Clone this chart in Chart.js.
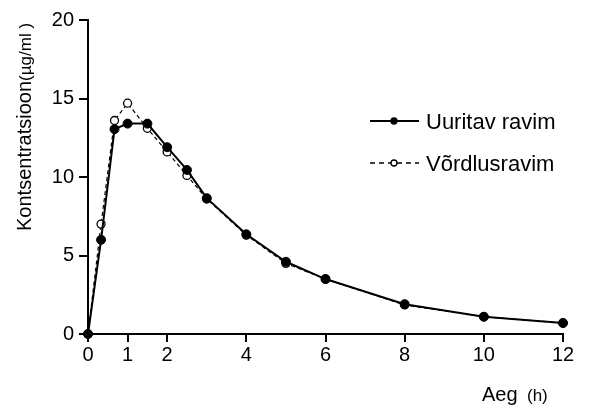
<!DOCTYPE html>
<html>
<head>
<meta charset="utf-8">
<script src="https://cdn.jsdelivr.net/npm/chart.js@4"></script>
<style>
  html, body { margin: 0; padding: 0; background: #fff; }
  #wrap { width: 597px; height: 405px; }
</style>
</head>
<body>
<div id="wrap"><canvas id="pk"></canvas></div>
<script>
// aeg (h) ja kontsentratsioon (µg/ml)
const aeg = [0, 0.33, 0.67, 1, 1.5, 2, 2.5, 3, 4, 5, 6, 8, 10, 12];
const uuritav = [0, 6.0, 13.05, 13.4, 13.4, 11.9, 10.45, 8.65, 6.35, 4.6, 3.5, 1.9, 1.1, 0.7];
const vordlus = [0, 7.0, 13.6, 14.7, 13.1, 11.6, 10.1, 8.6, 6.3, 4.5, 3.5, 1.85, 1.1, 0.7];
const xTicks = [0, 1, 2, 4, 6, 8, 10, 12];
const yTicks = [0, 5, 10, 15, 20];

const FONT = "'Liberation Sans', Arial, sans-serif";

const toPoints = (vals) => vals.map((v, i) => ({ x: aeg[i], y: v }));

// teljepealkirjad ja legend (kahe suurusega tekst)
const extras = {
    id: 'extras',
    afterDraw(chart) {
        const c = chart.ctx;
        c.save();
        c.fillStyle = '#000';
        c.textBaseline = 'alphabetic';

        // x telje pealkiri
        c.font = '20px ' + FONT;
        c.fillText('Aeg', 482, 401);
        c.font = '17px ' + FONT;
        c.fillText('(h)', 527, 401);

        // y telje pealkiri
        c.save();
        c.translate(31, 231);
        c.rotate(-Math.PI / 2);
        c.font = '20px ' + FONT;
        c.fillText('Kontsentratsioon', 0, 0);
        const w2 = c.measureText('Kontsentratsioon').width;
        c.font = '17px ' + FONT;
        c.fillText('(µg/ml )', w2, 0);
        c.restore();

        // legend
        const rows = [121, 163];
        chart.data.datasets.forEach((ds, i) => {
            const y = rows[i];
            c.strokeStyle = '#000';
            c.lineWidth = i === 0 ? 1.8 : 1.3;
            c.setLineDash(i === 0 ? [] : [5, 4]);
            c.beginPath();
            c.moveTo(370, y);
            c.lineTo(419, y);
            c.stroke();
            c.setLineDash([]);
            c.beginPath();
            c.arc(394, y, 3, 0, Math.PI * 2);
            c.fillStyle = ds.pointBackgroundColor;
            c.fill();
            c.lineWidth = 1.3;
            c.stroke();
            c.fillStyle = '#000';
            c.font = '22px ' + FONT;
            c.fillText(ds.label, 426, y + 8);
        });
        c.restore();
    }
};

new Chart(document.getElementById('pk'), {
    type: 'line',
    data: {
        datasets: [{
            label: 'Uuritav ravim',
            data: toPoints(uuritav),
            borderColor: '#000',
            borderWidth: 2,
            pointRadius: 4.5,
            pointBackgroundColor: '#000',
            pointBorderColor: '#000',
            pointBorderWidth: 1,
            tension: 0,
            clip: false,
            order: 0
        }, {
            label: 'Võrdlusravim',
            data: toPoints(vordlus),
            borderColor: '#000',
            borderWidth: 1.2,
            borderDash: [4, 3],
            pointRadius: 4,
            pointBackgroundColor: '#fff',
            pointBorderColor: '#000',
            pointBorderWidth: 1.3,
            tension: 0,
            clip: false,
            order: 1
        }]
    },
    options: {
        responsive: true,
        maintainAspectRatio: false,
        animation: false,
        layout: { padding: { left: 0, right: 34, top: 20, bottom: 0 } },
        plugins: {
            legend: { display: false },
            tooltip: { enabled: false }
        },
        scales: {
            x: {
                type: 'linear',
                min: 0,
                max: 12,
                afterBuildTicks: (scale) => { scale.ticks = xTicks.map(v => ({ value: v })); },
                afterFit: (scale) => { scale.height = 71; },
                border: { display: true, color: '#000', width: 2 },
                grid: { drawOnChartArea: false, color: '#000', lineWidth: 2, tickLength: 8 },
                ticks: { color: '#000', font: { family: FONT, size: 20 }, padding: 1, maxRotation: 0 }
            },
            y: {
                min: 0,
                max: 20,
                afterBuildTicks: (scale) => { scale.ticks = yTicks.map(v => ({ value: v })); },
                afterFit: (scale) => { scale.width = 88; },
                border: { display: true, color: '#000', width: 2 },
                grid: { drawOnChartArea: false, color: '#000', lineWidth: 2, tickLength: 9 },
                ticks: { color: '#000', font: { family: FONT, size: 20 }, padding: 5 }
            }
        }
    },
    plugins: [extras]
});
</script>
</body>
</html>
